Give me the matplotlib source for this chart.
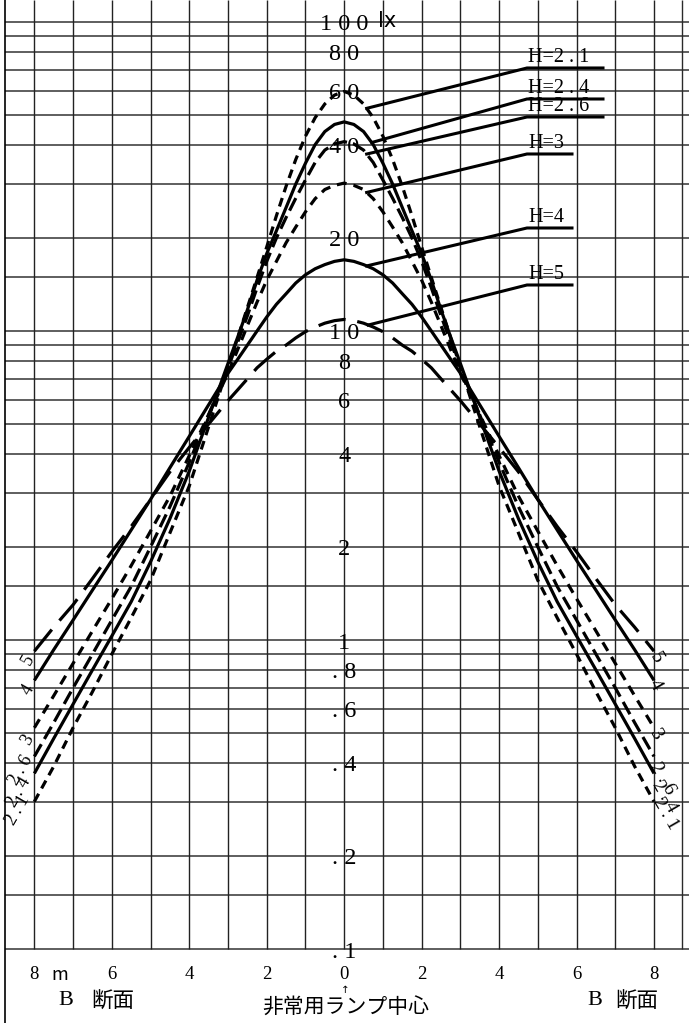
import numpy as np
import matplotlib
matplotlib.use("Agg")
import matplotlib.pyplot as plt

# ---------------- data ----------------
# distance from the emergency lamp centre (m); curves are plotted on both sides
dist = [0, 0.25, 0.5, 0.75, 1, 1.25, 1.5, 1.75, 2, 2.25, 2.5, 2.75, 3,
        3.5, 4, 4.5, 5, 5.5, 6, 6.5, 7, 7.5, 8]
# illuminance (lx) for each mounting height H (m)
lux_h21 = [59.6, 58.0, 54.3, 49.0, 42.7, 35.9, 29.4, 23.6, 18.7, 14.9, 11.9, 9.5, 7.66,
           4.9, 3.15, 2.22, 1.56, 1.18, 0.90, 0.68, 0.52, 0.39, 0.30]
lux_h24 = [47.5, 46.6, 44.2, 40.1, 34.9, 29.9, 25.1, 21.1, 17.8, 14.6, 11.7, 9.55, 7.85,
           5.26, 3.52, 2.47, 1.79, 1.33, 1.03, 0.80, 0.62, 0.48, 0.37]
lux_h26 = [41.0, 40.3, 38.5, 35.1, 30.8, 26.9, 23.3, 20.0, 16.8, 13.8, 11.2, 9.2, 7.6,
           5.35, 3.76, 2.70, 2.00, 1.49, 1.16, 0.90, 0.70, 0.54, 0.42]
lux_h3 = [30.1, 29.6, 28.7, 26.8, 24.3, 21.7, 19.3, 16.8, 14.6, 12.4, 10.4, 8.7, 7.3,
          5.37, 3.95, 2.92, 2.25, 1.74, 1.36, 1.07, 0.84, 0.66, 0.52]
lux_h4 = [17.0, 16.8, 16.4, 15.9, 15.2, 14.3, 13.2, 12.2, 11.1, 10.0, 9.0, 8.1, 7.3,
          5.77, 4.56, 3.61, 2.85, 2.27, 1.81, 1.45, 1.16, 0.93, 0.74]
lux_h5 = [10.9, 10.8, 10.6, 10.3, 9.95, 9.5, 9.0, 8.6, 8.1, 7.6, 7.0, 6.45, 5.95,
          5.0, 4.2, 3.5, 2.85, 2.33, 1.93, 1.58, 1.30, 1.10, 0.92]

series_names = ["H=2 . 1", "H=2 . 4", "H=2 . 6", "H=3", "H=4", "H=5"]
end_labels = ["2 . 1", "2 . 4", "2 . 6", "3", "4", "5"]
x_tick_vals = [-8, -6, -4, -2, 0, 2, 4, 6, 8]
x_tick_text = ["8", "6", "4", "2", "0", "2", "4", "6", "8"]
y_label_vals = [100, 80, 60, 40, 20, 10, 8, 6, 4, 2, 1, 0.8, 0.6, 0.4, 0.2, 0.1]
y_label_text = ["1 0 0", "8 0", "6 0", "4 0", "2 0", "1 0", "8", "6", "4", "2", "1",
                ". 8", ". 6", ". 4", ". 2", ". 1"]

# ---------------- figure ----------------
W, H = 689, 1023
fig = plt.figure(figsize=(W / 100, H / 100), dpi=100)
ax = fig.add_axes([0, 0, 1, 1])
ax.set_yscale("log")
XMIN, XMAX = -8.887, 8.903
YMIN, YMAX = 0.05762, 117.8
ax.set_xlim(XMIN, XMAX)
ax.set_ylim(YMIN, YMAX)
ax.axis("off")

SERIF = "Liberation Serif"
CJK = ["Noto Sans CJK JP", "DejaVu Sans"]

# grid
decade_marks = [1, 1.5, 2, 3, 4, 5, 6, 7, 8, 9]
ygrid = [m * d for d in (0.1, 1, 10) for m in decade_marks] + [100]
xgrid = list(range(-8, 9))
BL, BR = -8.76, 8.73
ax.hlines(ygrid, BL, XMAX, colors="#333333", lw=1.1, zorder=1)
ax.vlines(xgrid, 0.1, YMAX, colors="#222222", lw=1.0, zorder=1)
ax.vlines([BL], YMIN, YMAX, colors="black", lw=1.2, zorder=1)
ax.vlines([BR], 0.1, YMAX, colors="#2a2a2a", lw=1.0, zorder=1)

# curves
d = np.array(dist)
xs = np.concatenate([-d[::-1], d[1:]])
series = [lux_h21, lux_h24, lux_h26, lux_h3, lux_h4, lux_h5]
LW = 2.3
styles = [
    dict(ls=(0, (2.8, 1.9))),
    dict(ls="-"),
    dict(ls=(0, (4.4, 1.9))),
    dict(ls=(0, (3.1, 2.2))),
    dict(ls="-"),
    dict(ls=(0, (8.7, 3.7))),
]
for vals, st in zip(series, styles):
    v = np.array(vals)
    ys = np.concatenate([v[::-1], v[1:]])
    ax.plot(xs, ys, color="black", lw=LW, solid_capstyle="butt",
            dash_capstyle="butt", zorder=3, **st)


def pix(xp, yp):
    """pixel position in the reference -> data coordinates (layout helper)"""
    return (xp - 344.2) / 38.73, 10 ** ((640 - yp) / 309)


# leader lines + H labels
leader_start_x = [0.58, 0.71, 0.58, 0.58, 0.58, 0.62]
label_py = [68, 99, 117, 154, 228, 285]
label_end_px = [603, 603, 603, 572, 572, 572]
for name, vals, sx, lpy, epx in zip(series_names, series, leader_start_x,
                                    label_py, label_end_px):
    sy = 10 ** np.interp(sx, dist, np.log10(vals))
    ex, ly = pix(527, lpy)
    fx, _ = pix(epx, lpy)
    ax.plot([sx, ex, fx], [sy, ly, ly], color="black", lw=2.2, zorder=4,
            solid_joinstyle="miter")
    ax.text(ex + 0.03, ly * 10 ** (1.0 / 309), name, family=SERIF, fontsize=14.5,
            ha="left", va="bottom", zorder=5)

# y value labels down the centre
for val, txt in zip(y_label_vals, y_label_text):
    yy = val * 10 ** (-3 / 309)
    ax.text(0.0, yy, txt, family=SERIF, fontsize=17.5, ha="center", va="center",
            zorder=6)
lx_x, lx_y = pix(387, 21)
ax.text(lx_x, lx_y, "lx", family="DejaVu Sans", fontsize=15, ha="center",
        va="center", zorder=6)

# x labels
tick_y = pix(0, 974)[1]
for xv, t in zip(x_tick_vals, x_tick_text):
    ax.text(xv, tick_y, t, family=SERIF, fontsize=13.5, ha="center", va="center")
mx, my = pix(60, 975)
ax.text(mx, my, "m", family=CJK, fontsize=13, ha="center", va="center")

for bx, dx in ((66, 113), (595, 637)):
    p = pix(bx, 1000)
    ax.text(p[0], p[1], "B", family=SERIF, fontsize=16, ha="center", va="center")
    q = pix(dx, 1002)
    ax.text(q[0], q[1], "断面", family=CJK, fontsize=15.5, ha="center", va="center")
ar = pix(345, 990)
ax.text(ar[0], ar[1], "↑", family="DejaVu Sans", fontsize=7.5, ha="center",
        va="center")
c = pix(346, 1008)
ax.text(c[0], c[1], "非常用ランプ中心", family=CJK, fontsize=15, ha="center",
        va="center")

# labels at the curve ends (rotated)
right_pos = [(665, 814), (664, 797), (662, 779), (655, 734), (655, 685), (656, 658)]
left_pos = [(18, 810), (19, 792), (21, 770), (27, 740), (28, 690), (28, 660)]
for t, (rx, ry), (lx_, ly_) in zip(end_labels, right_pos, left_pos):
    p = pix(rx, ry)
    ax.text(p[0], p[1], t, family=SERIF, fontsize=14, rotation=-60,
            ha="center", va="center", zorder=6)
    q = pix(lx_, ly_)
    ax.text(q[0], q[1], t, family=SERIF, fontsize=13, rotation=60,
            ha="center", va="center", zorder=6)

fig.savefig("out.png", dpi=100, facecolor="white")
